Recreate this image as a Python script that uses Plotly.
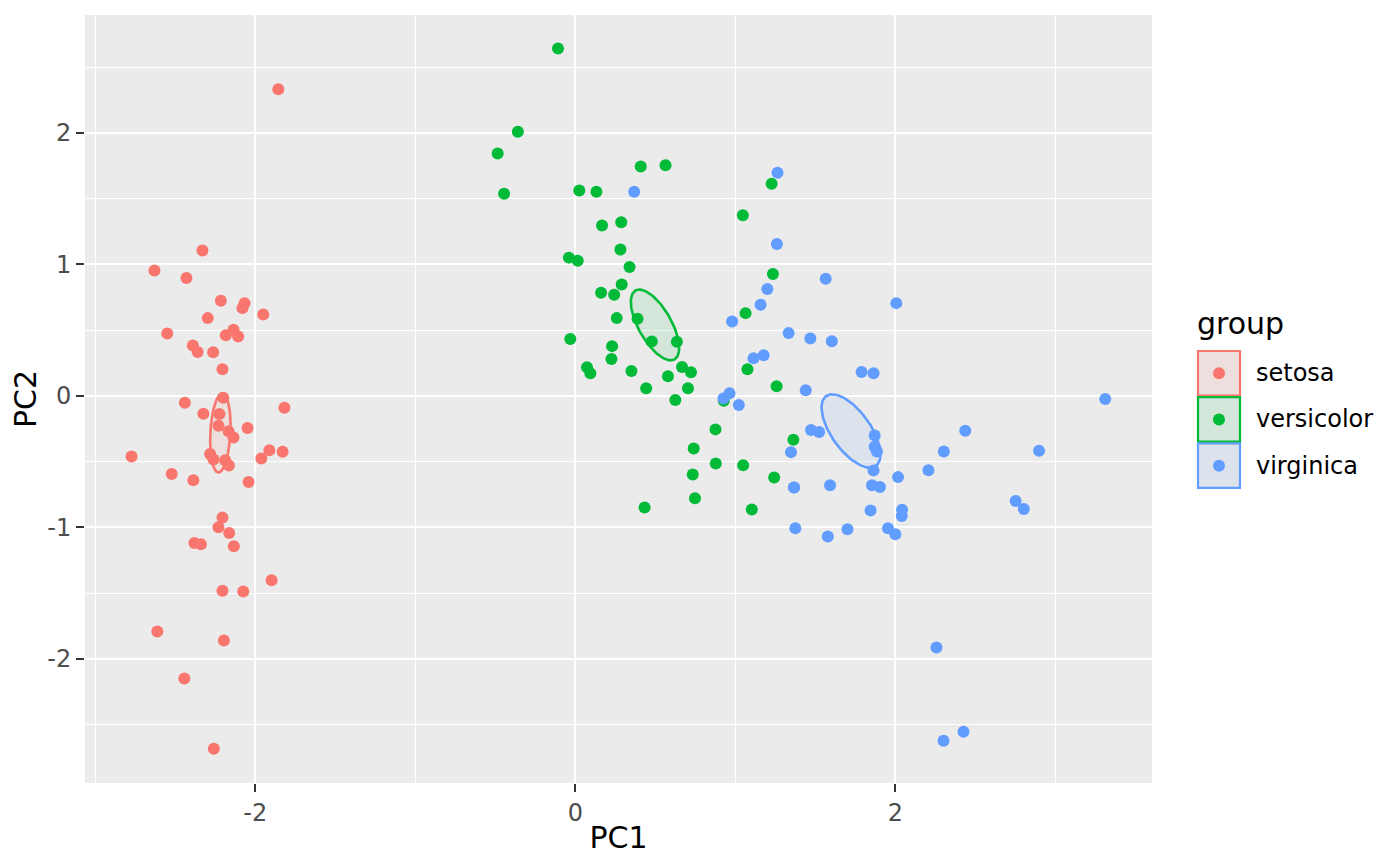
import numpy as np
import plotly.graph_objects as go

groups = ["setosa", "versicolor", "virginica"]
colors = ["#F8766D", "#00BA38", "#619CFF"]
fills = ["rgba(248,118,109,0.1)", "rgba(0,186,56,0.1)", "rgba(97,156,255,0.1)"]

# PC scores
setosa_pc1 = [-2.33, -2.63, -2.43, -2.215, -2.067, -2.08, -1.95, -2.297, -2.55, -2.136,
              -2.184, -2.107, -2.39, -2.36, -2.263, -2.205, -2.2, -2.44, -1.818, -2.324,
              -2.224, -2.23, -2.167, -2.048, -2.136, -2.773, -2.282, -2.261, -2.188, -2.165,
              -1.962, -1.912, -1.829, -2.522, -2.387, -2.042, -2.205, -2.23, -2.163, -2.38,
              -2.339, -2.134, -1.898, -2.205, -2.075, -2.612, -2.196, -2.443, -2.259, -1.856]
setosa_pc2 = [1.107, 0.955, 0.897, 0.724, 0.706, 0.668, 0.62, 0.592, 0.475, 0.503,
              0.462, 0.452, 0.383, 0.335, 0.333, 0.203, -0.013, -0.051, -0.089, -0.135,
              -0.137, -0.226, -0.269, -0.244, -0.315, -0.46, -0.442, -0.483, -0.488, -0.528,
              -0.475, -0.412, -0.424, -0.594, -0.64, -0.655, -0.925, -0.998, -1.042, -1.118,
              -1.128, -1.143, -1.402, -1.481, -1.486, -1.791, -1.86, -2.149, -2.683, 2.332]

versicolor_pc1 = [-0.108, -0.359, -0.485, -0.445, 0.409, 0.564, 0.025, 0.132, 1.227, 1.047,
                  0.167, 0.287, 0.282, -0.04, 0.015, 0.339, 1.235, 0.29, 0.161, 0.243,
                  0.259, 0.389, -0.031, 0.23, 0.226, 0.478, 0.635, 0.073, 0.094, 0.351,
                  0.579, 0.667, 0.723, 0.443, 0.704, 0.625, 0.928, 1.064, 1.076, 1.258,
                  0.876, 1.363, 0.74, 0.878, 1.049, 0.734, 1.243, 0.748, 0.433, 1.103]
versicolor_pc2 = [2.642, 2.01, 1.844, 1.537, 1.745, 1.755, 1.562, 1.553, 1.614, 1.374,
                  1.296, 1.321, 1.113, 1.052, 1.029, 0.981, 0.927, 0.848, 0.785, 0.77,
                  0.592, 0.587, 0.434, 0.379, 0.282, 0.414, 0.412, 0.219, 0.173, 0.19,
                  0.15, 0.221, 0.181, 0.059, 0.059, -0.03, -0.036, 0.63, 0.203, 0.074,
                  -0.254, -0.333, -0.399, -0.513, -0.526, -0.597, -0.62, -0.777, -0.848, -0.864]

virginica_pc1 = [0.368, 1.264, 1.26, 1.2, 1.565, 1.158, 0.98, 1.333, 1.469, 1.603,
                 1.114, 1.177, 0.926, 0.964, 1.022, 1.44, 1.473, 1.524, 1.348, 1.367,
                 1.592, 1.375, 2.006, 1.789, 1.864, 3.312, 1.871, 1.871, 1.885, 2.437,
                 2.303, 2.898, 1.864, 2.207, 2.017, 1.854, 1.904, 2.752, 2.803, 1.845,
                 2.042, 2.04, 1.578, 1.701, 1.954, 2.0, 2.257, 2.301, 2.426, 1.367]
virginica_pc2 = [1.553, 1.697, 1.156, 0.813, 0.892, 0.694, 0.566, 0.478, 0.437, 0.417,
                 0.287, 0.31, -0.02, 0.02, -0.069, 0.043, -0.259, -0.274, -0.427, -0.696,
                 -0.678, -1.005, 0.706, 0.183, 0.173, -0.023, -0.3, -0.386, -0.422, -0.264,
                 -0.422, -0.417, -0.566, -0.564, -0.617, -0.678, -0.693, -0.798, -0.859, -0.871,
                 -0.866, -0.912, -1.069, -1.014, -1.006, -1.052, -1.913, -2.622, -2.553, -0.696]

pc1 = [setosa_pc1, versicolor_pc1, virginica_pc1]
pc2 = [setosa_pc2, versicolor_pc2, virginica_pc2]

# ellipse per group: centre, spread along each axis, correlation
ell_cx = [-2.218, 0.498, 1.723]
ell_cy = [-0.281, 0.540, -0.266]
ell_sx = [0.064, 0.151, 0.184]
ell_sy = [0.301, 0.269, 0.279]
ell_r = [0.19, -0.647, -0.636]

fig = go.Figure()

t = np.linspace(0, 2 * np.pi, 120)
for i, g in enumerate(groups):
    ex = ell_cx[i] + ell_sx[i] * np.cos(t)
    ey = ell_cy[i] + ell_sy[i] * (ell_r[i] * np.cos(t) + np.sqrt(1 - ell_r[i] ** 2) * np.sin(t))
    fig.add_trace(go.Scatter(x=ex, y=ey, mode="lines", fill="toself",
                             fillcolor=fills[i], line=dict(color=colors[i], width=2.6),
                             hoverinfo="skip", name=g))

for i, g in enumerate(groups):
    fig.add_trace(go.Scatter(x=pc1[i], y=pc2[i], mode="markers", name=g,
                             marker=dict(color=colors[i], size=12, line=dict(width=0))))

fig.update_layout(
    width=1400, height=866,
    margin=dict(l=85, r=248, t=15, b=83),
    plot_bgcolor="#EBEBEB", paper_bgcolor="white",
    font=dict(family="DejaVu Sans", color="#4D4D4D", size=24),
    showlegend=False,
)

fig.update_xaxes(range=[-3.064, 3.604], tickmode="array", tickvals=[-2, 0, 2],
                 ticktext=["-2", "0", "2"], ticks="outside", ticklen=8, tickwidth=2.2,
                 tickcolor="#333333", showgrid=True, gridcolor="white", gridwidth=2.4,
                 zeroline=False, showline=False,
                 minor=dict(tickmode="array", tickvals=[-3, -1, 1, 3], showgrid=True,
                            gridcolor="white", gridwidth=1.2),
                 title=dict(text="PC1", font=dict(size=30, color="black"), standoff=1))
fig.update_yaxes(range=[-2.943, 2.897], tickmode="array", tickvals=[-2, -1, 0, 1, 2],
                 ticktext=["-2", "-1", "0", "1", "2"], ticks="outside", ticklen=8,
                 tickwidth=2.2, tickcolor="#333333", showgrid=True, gridcolor="white",
                 gridwidth=2.4, zeroline=False, showline=False,
                 minor=dict(tickmode="array", tickvals=[-2.5, -1.5, -0.5, 0.5, 1.5, 2.5],
                            showgrid=True, gridcolor="white", gridwidth=1.2),
                 title=dict(text="PC2", font=dict(size=30, color="black"), standoff=1))


# hand-made legend with boxed keys, placed in pixels
def px_x(p):
    return (p - 85) / 1067


def px_y(p):
    return (783 - p) / 768


fig.add_annotation(x=px_x(1195), y=px_y(323), xref="paper", yref="paper", text="group",
                   showarrow=False, xanchor="left", yanchor="middle",
                   font=dict(size=30, color="black"))
for i, g in enumerate(groups):
    top = 351 + i * 46.2
    bot = top + 44.5
    mid = (top + bot) / 2
    fig.add_shape(type="rect", xref="paper", yref="paper", x0=px_x(1198), x1=px_x(1240),
                  y0=px_y(bot), y1=px_y(top), fillcolor="#EBEBEB", line=dict(width=0))
    fig.add_shape(type="rect", xref="paper", yref="paper", x0=px_x(1198), x1=px_x(1240),
                  y0=px_y(bot), y1=px_y(top), fillcolor=fills[i],
                  line=dict(color=colors[i], width=2.2))
    fig.add_shape(type="circle", xref="paper", yref="paper", x0=px_x(1213), x1=px_x(1225),
                  y0=px_y(mid + 6), y1=px_y(mid - 6), fillcolor=colors[i], line=dict(width=0))
    fig.add_annotation(x=px_x(1254), y=px_y(mid), xref="paper", yref="paper", text=g,
                       showarrow=False, xanchor="left", yanchor="middle",
                       font=dict(size=24, color="black"))

# the page body has a default margin; drop it so the figure sits at 0,0
fig.write_html("out.html", config={"displayModeBar": False},
               post_script="document.body.style.margin = '0';")
